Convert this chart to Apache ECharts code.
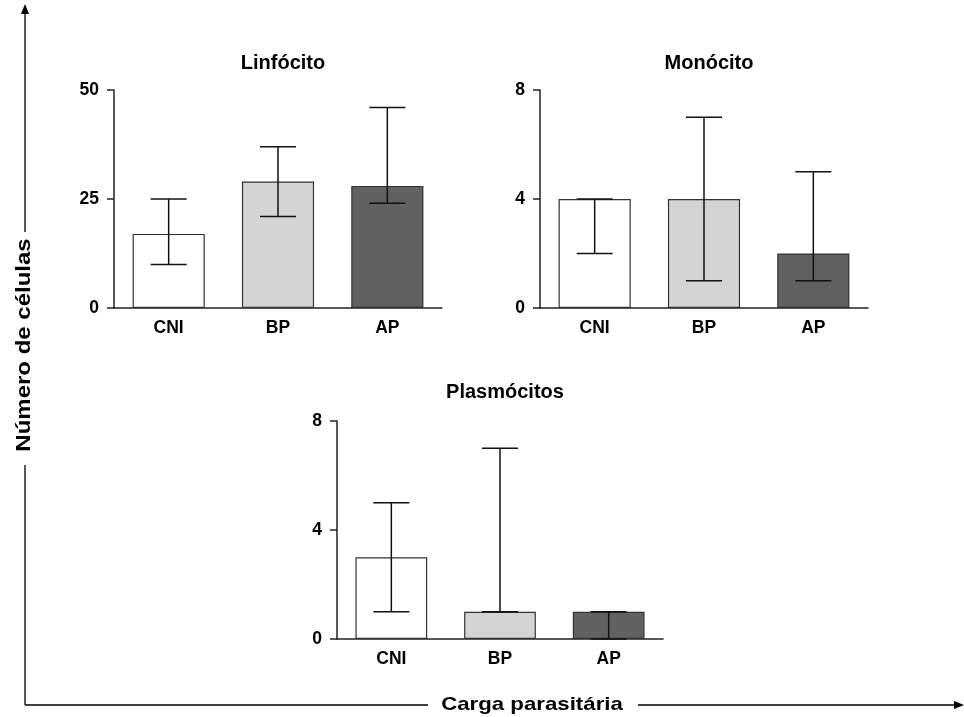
<!DOCTYPE html>
<html>
<head>
<meta charset="utf-8">
<script src="https://cdn.jsdelivr.net/npm/echarts@6/dist/echarts.min.js"></script>
<style>html,body{margin:0;padding:0;background:#fff}#c{width:964px;height:717px}</style>
</head>
<body>
<div id="c"></div>
<script>
var categories = ['CNI', 'BP', 'AP'];
var barColors = ['#ffffff', '#d4d4d4', '#616161'];

var linfMedian = [17, 29, 28];
var linfLow = [10, 21, 24];
var linfHigh = [25, 37, 46];

var monoMedian = [4, 4, 2];
var monoLow = [2, 1, 1];
var monoHigh = [4, 7, 5];

var plasMedian = [3, 1, 1];
var plasLow = [1, 1, 0];
var plasHigh = [5, 7, 1];

var titles = ['Linfócito', 'Monócito', 'Plasmócitos'];
var yMax = [50, 8, 8];
var yInterval = [25, 4, 4];
var yAxisName = 'Número de células';
var xAxisName = 'Carga parasitária';

var FONT = 'Liberation Sans, Arial, sans-serif';
var AX = '#222';

var panels = [
  {median: linfMedian, low: linfLow, high: linfHigh},
  {median: monoMedian, low: monoLow, high: monoHigh},
  {median: plasMedian, low: plasLow, high: plasHigh}
];

var grids = [
  {left: 114, top: 90, width: 328, height: 218},
  {left: 540, top: 90, width: 328, height: 218},
  {left: 337, top: 421, width: 326, height: 218}
];
var titleTop = [48, 48, 377];

var xAxes = [], yAxes = [], series = [], titleArr = [];
grids.forEach(function (g, i) {
  xAxes.push({
    type: 'category', gridIndex: i, data: categories,
    axisLine: {lineStyle: {color: AX, width: 1.5}},
    axisTick: {alignWithLabel: true, length: 7, lineStyle: {color: AX, width: 1.5}},
    axisLabel: {color: '#000', fontFamily: FONT, fontWeight: 'bold', fontSize: 17.5, margin: 11},
    splitLine: {show: false}
  });
  yAxes.push({
    type: 'value', gridIndex: i, min: 0, max: yMax[i], interval: yInterval[i],
    axisLine: {show: true, lineStyle: {color: AX, width: 1.5}},
    axisTick: {show: true, length: 7, lineStyle: {color: AX, width: 1.5}},
    axisLabel: {color: '#000', fontFamily: FONT, fontWeight: 'bold', fontSize: 17.5, margin: 15},
    splitLine: {show: false}
  });
  var p = panels[i];
  series.push({
    type: 'bar', xAxisIndex: i, yAxisIndex: i, barWidth: '66%',
    data: p.median.map(function (v, k) {
      return {value: v, itemStyle: {color: barColors[k], borderColor: '#333', borderWidth: 1.2}};
    }),
    z: 2
  });
  series.push({
    type: 'custom', xAxisIndex: i, yAxisIndex: i, z: 5,
    data: p.low.map(function (v, k) { return [k, v, p.high[k]]; }),
    encode: {x: 0, y: [1, 2]},
    renderItem: function (params, api) {
      var lo = api.coord([api.value(0), api.value(1)]);
      var hi = api.coord([api.value(0), api.value(2)]);
      var hw = 18;
      var st = {stroke: '#111', lineWidth: 1.5};
      return {
        type: 'group',
        children: [
          {type: 'line', shape: {x1: lo[0], y1: lo[1], x2: hi[0], y2: hi[1]}, style: st},
          {type: 'line', shape: {x1: lo[0] - hw, y1: lo[1], x2: lo[0] + hw, y2: lo[1]}, style: st},
          {type: 'line', shape: {x1: hi[0] - hw, y1: hi[1], x2: hi[0] + hw, y2: hi[1]}, style: st}
        ]
      };
    }
  });
  titleArr.push({
    text: titles[i],
    left: g.left + g.width / 2, top: titleTop[i], textAlign: 'center',
    textStyle: {fontFamily: FONT, fontWeight: 'bold', fontSize: 20, color: '#000'}
  });
});

var chart = echarts.init(document.getElementById('c'), null, {renderer: 'canvas'});
chart.setOption({
  animation: false,
  backgroundColor: '#fff',
  title: titleArr,
  grid: grids,
  xAxis: xAxes,
  yAxis: yAxes,
  series: series,
  graphic: [
    {type: 'line', shape: {x1: 25, y1: 12, x2: 25, y2: 232}, style: {stroke: '#000', lineWidth: 1.3}},
    {type: 'line', shape: {x1: 25, y1: 465, x2: 25, y2: 705}, style: {stroke: '#000', lineWidth: 1.3}},
    {type: 'polygon', shape: {points: [[25, 4], [21, 14], [29, 14]]}, style: {fill: '#000'}},
    {type: 'line', shape: {x1: 25, y1: 705, x2: 428, y2: 705}, style: {stroke: '#000', lineWidth: 1.3}},
    {type: 'line', shape: {x1: 638, y1: 705, x2: 956, y2: 705}, style: {stroke: '#000', lineWidth: 1.3}},
    {type: 'polygon', shape: {points: [[964, 705], [954, 701], [954, 709]]}, style: {fill: '#000'}},
    {type: 'text', x: 24, y: 345, rotation: Math.PI / 2, scaleX: 1.2, scaleY: 1,
     style: {text: yAxisName, fontFamily: FONT, fontWeight: 'bold', fontSize: 20, fill: '#000', align: 'center', verticalAlign: 'middle'}},
    {type: 'text', x: 532, y: 705, scaleX: 1.17, scaleY: 1,
     style: {text: xAxisName, fontFamily: FONT, fontWeight: 'bold', fontSize: 19, fill: '#000', align: 'center', verticalAlign: 'middle'}}
  ]
});
</script>
</body>
</html>
